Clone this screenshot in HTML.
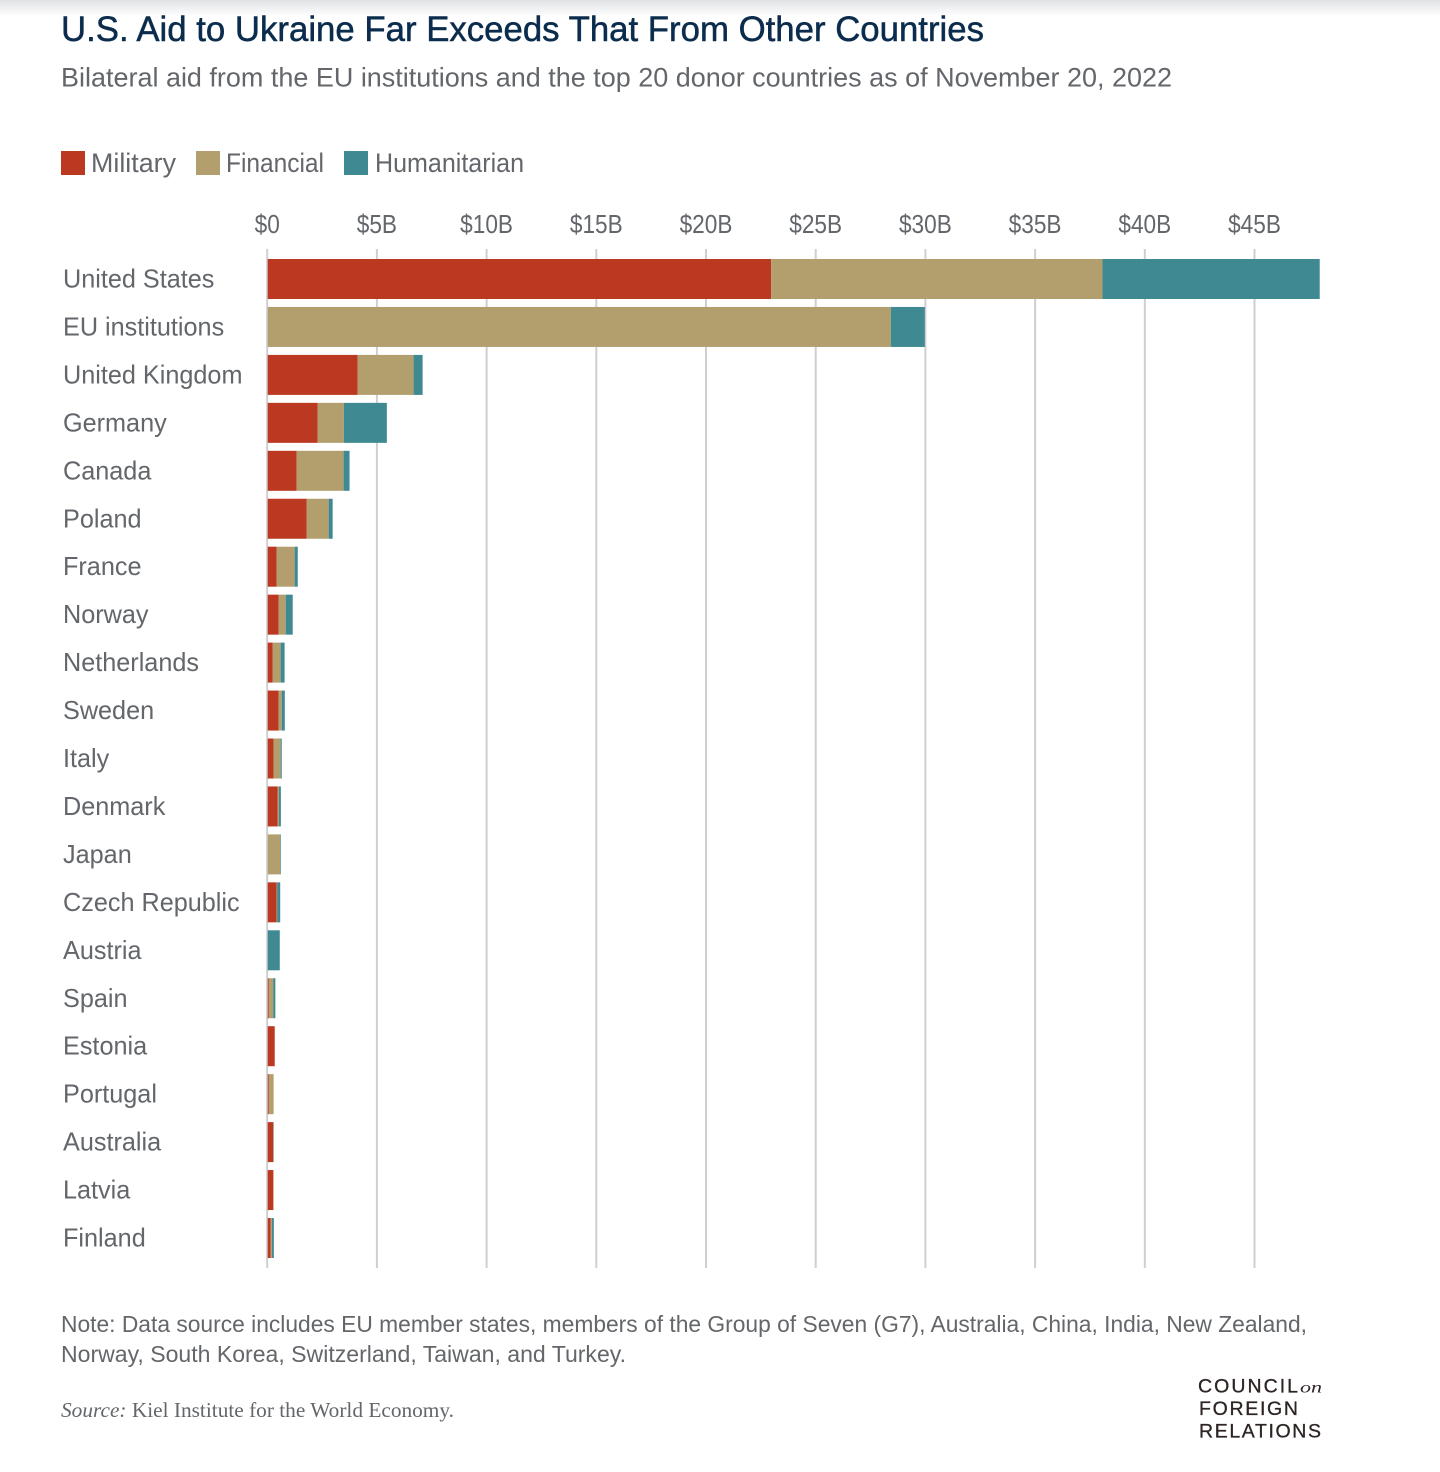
<!DOCTYPE html>
<html lang="en">
<head>
<meta charset="utf-8">
<title>U.S. Aid to Ukraine Far Exceeds That From Other Countries</title>
<style>
html,body{margin:0;padding:0;background:#fff;width:1440px;height:1472px;overflow:hidden}
svg{display:block;font-family:"Liberation Sans",sans-serif}
.gray{fill:#63666a}
</style>
</head>
<body>
<svg id="chart" xmlns="http://www.w3.org/2000/svg" width="1440" height="1472" viewBox="0 0 1440 1472">
  <defs>
    <linearGradient id="topShade" x1="0" y1="0" x2="0" y2="1">
      <stop offset="0" stop-color="#dfe1e4"/>
      <stop offset="1" stop-color="#ffffff"/>
    </linearGradient>
  </defs>
  <rect x="0" y="0" width="1440" height="16" fill="url(#topShade)"/>
  <text x="61" y="41" font-size="35" fill="#0b2c4d" stroke="#0b2c4d" stroke-width="0.5" textLength="923" lengthAdjust="spacingAndGlyphs">U.S. Aid to Ukraine Far Exceeds That From Other Countries</text>
  <text class="gray" x="61" y="86.5" font-size="27" textLength="1111" lengthAdjust="spacingAndGlyphs">Bilateral aid from the EU institutions and the top 20 donor countries as of November 20, 2022</text>

  <g>
    <rect x="61" y="151" width="24" height="24" fill="#bb3821"/>
    <text class="gray" x="91" y="172" font-size="27" textLength="85" lengthAdjust="spacingAndGlyphs">Military</text>
    <rect x="196" y="151" width="24" height="24" fill="#b39e6d"/>
    <text class="gray" x="226" y="172" font-size="27" textLength="98" lengthAdjust="spacingAndGlyphs">Financial</text>
    <rect x="344" y="151" width="24" height="24" fill="#3e8992"/>
    <text class="gray" x="375" y="172" font-size="27" textLength="149" lengthAdjust="spacingAndGlyphs">Humanitarian</text>
  </g>

  <g id="grid"></g>
  <g id="bars"></g>
  <g id="labels"></g>

  <text class="gray" x="61" y="1332" font-size="23" textLength="1246" lengthAdjust="spacingAndGlyphs">Note: Data source includes EU member states, members of the Group of Seven (G7), Australia, China, India, New Zealand,</text>
  <text class="gray" x="61" y="1362" font-size="23" textLength="565" lengthAdjust="spacingAndGlyphs">Norway, South Korea, Switzerland, Taiwan, and Turkey.</text>
  <text class="gray" x="61" y="1417" font-size="21.5" textLength="393" lengthAdjust="spacingAndGlyphs" style="font-family:'Liberation Serif',serif"><tspan font-style="italic">Source:</tspan> Kiel Institute for the World Economy.</text>

  <g fill="#2e2424" stroke="#2e2424" stroke-width="0.3">
    <text x="1198" y="1392.5" font-size="19.5" textLength="100" lengthAdjust="spacing">COUNCIL</text>
    <text x="1300" y="1392.5" font-size="16" font-style="italic" stroke="none" textLength="22" lengthAdjust="spacingAndGlyphs" style="font-family:'Liberation Serif',serif">on</text>
    <text x="1199" y="1415" font-size="19.5" textLength="99" lengthAdjust="spacing">FOREIGN</text>
    <text x="1199" y="1437.5" font-size="19.5" textLength="122" lengthAdjust="spacing">RELATIONS</text>
  </g>
</svg>
<script>
const categories = ["United States","EU institutions","United Kingdom","Germany","Canada","Poland","France","Norway","Netherlands","Sweden","Italy","Denmark","Japan","Czech Republic","Austria","Spain","Estonia","Portugal","Australia","Latvia","Finland"];
const military = [22.95,0,4.1,2.28,1.32,1.78,0.41,0.5,0.23,0.5,0.27,0.46,0,0.41,0,0.05,0.32,0.05,0.26,0.26,0.14];
const financial = [15.1,28.4,2.55,1.19,2.14,1.0,0.82,0.32,0.36,0.14,0.32,0.05,0.57,0.02,0,0.2,0,0.22,0,0,0.05];
const humanitarian = [9.9,1.55,0.41,1.96,0.27,0.18,0.14,0.32,0.18,0.14,0.05,0.09,0.03,0.14,0.55,0.1,0,0,0.01,0,0.09];
const tickValues = [0,5,10,15,20,25,30,35,40,45];
const tickLabels = ["$0","$5B","$10B","$15B","$20B","$25B","$30B","$35B","$40B","$45B"];
const seriesColors = ["#bb3821","#b39e6d","#3e8992"];
const seriesNames = ["military","financial","humanitarian"];

const NS = "http://www.w3.org/2000/svg";
function xScale(v){ return 267.7 + v * 21.94; }
function yScale(i){ return 259 + i * 47.95; }
const BAR_H = 40;
const TICK_SQUEEZE = 0.87;
const LABEL_SQUEEZE = 0.97;

function squeeze(t, factor){
  t.setAttribute("lengthAdjust", "spacingAndGlyphs");
  t.setAttribute("textLength", t.getComputedTextLength() * factor);
}

const grid = document.getElementById("grid");
tickValues.forEach(function(v, i){
  const line = document.createElementNS(NS, "line");
  
  
  line.setAttribute("x1", xScale(v) - 0.5);
  line.setAttribute("x2", xScale(v) - 0.5);
  line.setAttribute("y1", 249);
  line.setAttribute("y2", 1268);
  line.setAttribute("stroke", "#cfcfcf");
  line.setAttribute("stroke-width", 2);
  grid.appendChild(line);
  const t = document.createElementNS(NS, "text");
  
  
  t.setAttribute("x", xScale(v) - 0.5);
  t.setAttribute("y", 233);
  t.setAttribute("text-anchor", "middle");
  t.setAttribute("font-size", 26);
  t.setAttribute("fill", "#63666a");
  t.textContent = tickLabels[i];
  grid.appendChild(t);
  squeeze(t, TICK_SQUEEZE);
});

const bars = document.getElementById("bars");
const labels = document.getElementById("labels");
categories.forEach(function(c, i){
  const vals = [military[i], financial[i], humanitarian[i]];
  let acc = 0;
  vals.forEach(function(v, s){
    if (v <= 0) return;
    const r = document.createElementNS(NS, "rect");
    
    
    r.setAttribute("data-series", seriesNames[s]);
    r.setAttribute("x", xScale(acc));
    r.setAttribute("y", yScale(i));
    r.setAttribute("width", xScale(acc + v) - xScale(acc));
    r.setAttribute("height", BAR_H);
    r.setAttribute("fill", seriesColors[s]);
    bars.appendChild(r);
    acc += v;
  });
  const t = document.createElementNS(NS, "text");
  
  
  t.setAttribute("x", 63);
  t.setAttribute("y", yScale(i) + 28.5);
  t.setAttribute("font-size", 26);
  t.setAttribute("fill", "#63666a");
  t.textContent = c;
  labels.appendChild(t);
  squeeze(t, LABEL_SQUEEZE);
});
</script>
</body>
</html>
